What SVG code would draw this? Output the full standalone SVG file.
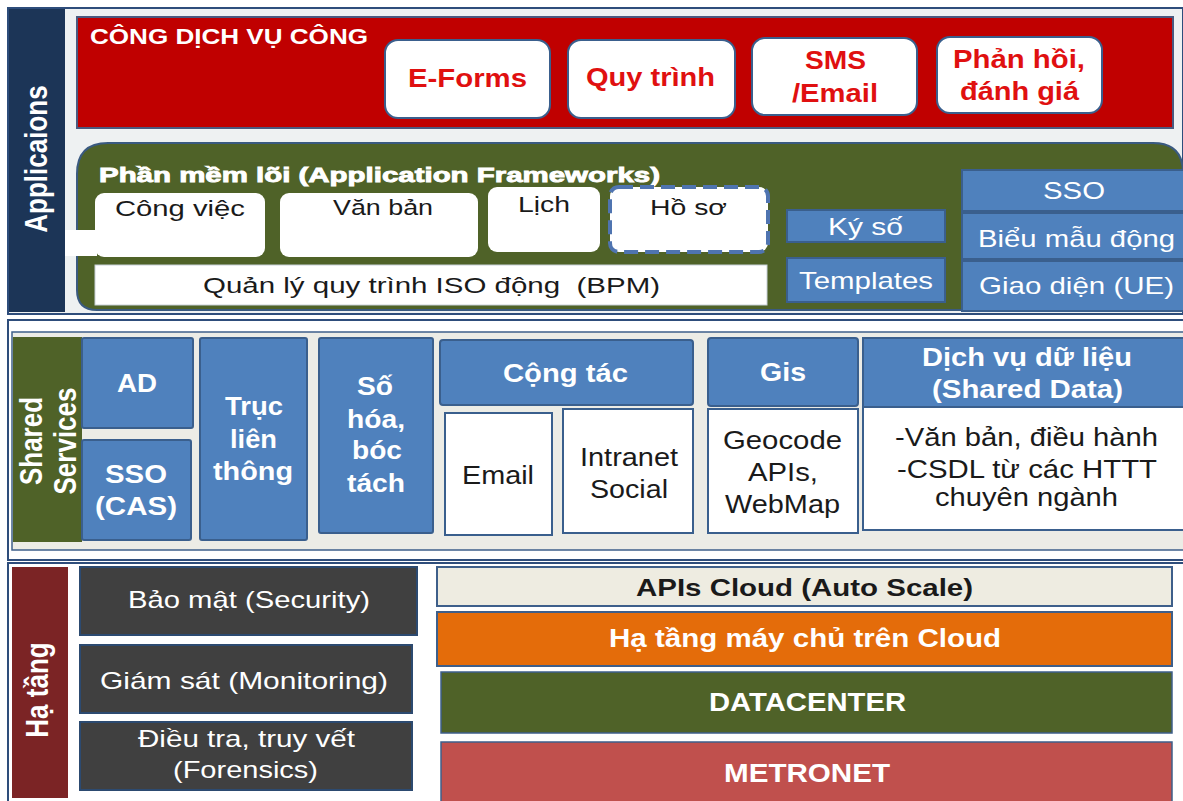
<svg xmlns="http://www.w3.org/2000/svg" width="1183" height="801" viewBox="0 0 1183 801">
<style>
text{font-family:"Liberation Sans",Arial,sans-serif;}
.b{font-weight:bold;}
.w{fill:#ffffff;}
.k{fill:#1a1a1a;}
.r{fill:#e01010;}
.blue{fill:#4f81bd;stroke:#3a5f8d;stroke-width:2;}
.wb{fill:#ffffff;stroke:#3a5f8d;stroke-width:2;}
.dk{fill:#404040;stroke:#2c4a70;stroke-width:2;}
.panel{stroke:#2e4d7b;stroke-width:2;}
.pre{white-space:pre;}
</style>

<g id="panel-applications">
  <rect class="panel" x="8" y="8" width="1175" height="306" fill="#eef1f2"/>
  <rect x="9" y="9" width="56" height="303" fill="#1c3557"/>
  <text class="b w" font-size="26" text-anchor="middle" transform="translate(47,159) scale(1.2,1) rotate(-90)">Applicaions</text>
</g>

<g id="cong-dich-vu-cong">
  <rect x="77" y="17" width="1096" height="111" fill="#c00000" stroke="#4a5a80" stroke-width="2"/>
  <text class="b w" font-size="22" x="90" y="44" textLength="278" lengthAdjust="spacingAndGlyphs">CÔNG DỊCH VỤ CÔNG</text>
</g>
<g id="eforms">
  <rect class="wb" x="385" y="40" width="165" height="78" rx="13"/>
  <text class="b r" font-size="25" x="408" y="87" textLength="119" lengthAdjust="spacingAndGlyphs">E-Forms</text>
</g>
<g id="quy-trinh">
  <rect class="wb" x="568" y="40" width="167" height="78" rx="13"/>
  <text class="b r" font-size="25" x="586" y="86" textLength="129" lengthAdjust="spacingAndGlyphs">Quy trình</text>
</g>
<g id="sms-email">
  <rect class="wb" x="752" y="38" width="165" height="77" rx="13"/>
  <text class="b r" font-size="25" x="805" y="69" textLength="61" lengthAdjust="spacingAndGlyphs">SMS</text>
  <text class="b r" font-size="25" x="792" y="102" textLength="86" lengthAdjust="spacingAndGlyphs">/Email</text>
</g>
<g id="phan-hoi">
  <rect class="wb" x="937" y="37" width="165" height="76" rx="13"/>
  <text class="b r" font-size="26" x="953" y="68" textLength="132" lengthAdjust="spacingAndGlyphs">Phản hồi,</text>
  <text class="b r" font-size="26" x="960" y="100" textLength="119" lengthAdjust="spacingAndGlyphs">đánh giá</text>
</g>

<g id="phan-mem-loi">
  <path d="M77,290 Q77,310 97,310 L1183,310 L1183,173 Q1183,143 1153,143 L108,143 Q77,143 77,174 Z" fill="#4f6228" stroke="#3a5a80" stroke-width="2"/>
  <text class="b w" font-size="21" x="99" y="182" textLength="561" lengthAdjust="spacingAndGlyphs" stroke="#ffffff" stroke-width="0.9">Phần mềm lõi (Application Frameworks)</text>
  <rect x="65" y="230" width="32" height="26" fill="#ffffff"/>
</g>
<g id="cong-viec">
  <rect x="95" y="193" width="170" height="64" rx="9" fill="#ffffff"/>
  <text class="k" font-size="22" x="115" y="216" textLength="130" lengthAdjust="spacingAndGlyphs">Công việc</text>
</g>
<g id="van-ban">
  <rect x="280" y="193" width="198" height="64" rx="9" fill="#ffffff"/>
  <text class="k" font-size="22" x="333" y="215" textLength="100" lengthAdjust="spacingAndGlyphs">Văn bản</text>
</g>
<g id="lich">
  <rect x="488" y="187" width="112" height="65" rx="9" fill="#ffffff"/>
  <text class="k" font-size="22" x="518" y="212" textLength="52" lengthAdjust="spacingAndGlyphs">Lịch</text>
</g>
<g id="ho-so">
  <rect x="610" y="187" width="158" height="65" rx="9" fill="#ffffff" stroke="#4f74b0" stroke-width="4" stroke-dasharray="14 7"/>
  <text class="k" font-size="22" x="650" y="215" textLength="77" lengthAdjust="spacingAndGlyphs">Hồ sơ</text>
</g>
<g id="bpm">
  <rect x="95" y="265" width="672" height="40" fill="#ffffff" stroke="#c8d0d8" stroke-width="1"/>
  <text class="k pre" font-size="22" x="203" y="293" textLength="457" lengthAdjust="spacingAndGlyphs">Quản lý quy trình ISO động  (BPM)</text>
</g>
<g id="ky-so">
  <rect class="blue" x="787" y="210" width="158" height="32"/>
  <text class="w" font-size="24" x="828" y="235" textLength="75" lengthAdjust="spacingAndGlyphs">Ký số</text>
</g>
<g id="templates">
  <rect class="blue" x="787" y="258" width="158" height="44"/>
  <text class="w" font-size="24" x="799" y="289" textLength="134" lengthAdjust="spacingAndGlyphs">Templates</text>
</g>
<g id="sso-app">
  <rect class="blue" x="962" y="170" width="226" height="41"/>
  <text class="w" font-size="24" x="1043" y="199" textLength="62" lengthAdjust="spacingAndGlyphs">SSO</text>
</g>
<g id="bieu-mau">
  <rect class="blue" x="962" y="213" width="226" height="46"/>
  <text class="w" font-size="24" x="978" y="247" textLength="197" lengthAdjust="spacingAndGlyphs">Biểu mẫu động</text>
</g>
<g id="giao-dien">
  <rect class="blue" x="962" y="261" width="226" height="50"/>
  <text class="w" font-size="24" x="979" y="294" textLength="195" lengthAdjust="spacingAndGlyphs">Giao diện (UE)</text>
</g>

<g id="panel-shared">
  <rect class="panel" x="8" y="320" width="1180" height="240" fill="#ffffff"/>
  <rect x="12" y="332" width="1176" height="218" fill="#ecece6" stroke="#3e5f8a" stroke-width="1.5"/>
  <rect x="13" y="337" width="69" height="205" fill="#4f6228"/>
  <text class="b w" font-size="26" text-anchor="middle" transform="translate(42,441) scale(1.2,1) rotate(-90)">Shared</text>
  <text class="b w" font-size="26" text-anchor="middle" transform="translate(76,441) scale(1.2,1) rotate(-90)">Services</text>
</g>
<g id="ad">
  <rect class="blue" x="82" y="338" width="111" height="90" rx="2"/>
  <text class="b w" font-size="25" x="117" y="392" textLength="40" lengthAdjust="spacingAndGlyphs">AD</text>
</g>
<g id="sso-cas">
  <rect class="blue" x="82" y="440" width="109" height="100" rx="2"/>
  <text class="b w" font-size="25" x="105" y="483" textLength="62" lengthAdjust="spacingAndGlyphs">SSO</text>
  <text class="b w" font-size="25" x="95" y="515" textLength="82" lengthAdjust="spacingAndGlyphs">(CAS)</text>
</g>
<g id="truc-lien-thong">
  <rect class="blue" x="200" y="338" width="107" height="202" rx="2"/>
  <text class="b w" font-size="25" x="225" y="415" textLength="58" lengthAdjust="spacingAndGlyphs">Trục</text>
  <text class="b w" font-size="25" x="230" y="448" textLength="47" lengthAdjust="spacingAndGlyphs">liên</text>
  <text class="b w" font-size="25" x="213" y="480" textLength="80" lengthAdjust="spacingAndGlyphs">thông</text>
</g>
<g id="so-hoa">
  <rect class="blue" x="319" y="338" width="114" height="195" rx="2"/>
  <text class="b w" font-size="25" x="357" y="395" textLength="36" lengthAdjust="spacingAndGlyphs">Số</text>
  <text class="b w" font-size="25" x="347" y="428" textLength="58" lengthAdjust="spacingAndGlyphs">hóa,</text>
  <text class="b w" font-size="25" x="352" y="459" textLength="50" lengthAdjust="spacingAndGlyphs">bóc</text>
  <text class="b w" font-size="25" x="347" y="492" textLength="58" lengthAdjust="spacingAndGlyphs">tách</text>
</g>
<g id="cong-tac">
  <rect class="blue" x="440" y="340" width="253" height="65" rx="3"/>
  <text class="b w" font-size="25" x="503" y="382" textLength="125" lengthAdjust="spacingAndGlyphs">Cộng tác</text>
</g>
<g id="email">
  <rect class="wb" x="445" y="413" width="107" height="122"/>
  <text class="k" font-size="25" x="462" y="484" textLength="72" lengthAdjust="spacingAndGlyphs">Email</text>
</g>
<g id="intranet">
  <rect class="wb" x="563" y="409" width="130" height="124"/>
  <text class="k" font-size="25" x="580" y="466" textLength="98" lengthAdjust="spacingAndGlyphs">Intranet</text>
  <text class="k" font-size="25" x="590" y="498" textLength="78" lengthAdjust="spacingAndGlyphs">Social</text>
</g>
<g id="gis">
  <rect class="blue" x="708" y="338" width="150" height="68" rx="3"/>
  <text class="b w" font-size="25" x="760" y="381" textLength="46" lengthAdjust="spacingAndGlyphs">Gis</text>
</g>
<g id="geocode">
  <rect class="wb" x="708" y="409" width="150" height="124"/>
  <text class="k" font-size="25" x="723" y="449" textLength="119" lengthAdjust="spacingAndGlyphs">Geocode</text>
  <text class="k" font-size="25" x="748" y="481" textLength="70" lengthAdjust="spacingAndGlyphs">APIs,</text>
  <text class="k" font-size="25" x="725" y="513" textLength="115" lengthAdjust="spacingAndGlyphs">WebMap</text>
</g>
<g id="dich-vu-du-lieu">
  <rect class="blue" x="863" y="338" width="325" height="69"/>
  <text class="b w" font-size="25" x="922" y="366" textLength="210" lengthAdjust="spacingAndGlyphs">Dịch vụ dữ liệu</text>
  <text class="b w" font-size="25" x="932" y="398" textLength="191" lengthAdjust="spacingAndGlyphs">(Shared Data)</text>
</g>
<g id="shared-data">
  <rect class="wb" x="863" y="407" width="325" height="123"/>
  <text class="k" font-size="25" x="895" y="446" textLength="263" lengthAdjust="spacingAndGlyphs">-Văn bản, điều hành</text>
  <text class="k" font-size="25" x="897" y="478" textLength="260" lengthAdjust="spacingAndGlyphs">-CSDL từ các HTTT</text>
  <text class="k" font-size="25" x="935" y="506" textLength="183" lengthAdjust="spacingAndGlyphs">chuyên ngành</text>
</g>

<g id="panel-ha-tang">
  <rect class="panel" x="8" y="563" width="1180" height="245" fill="#ffffff"/>
  <rect x="12" y="567" width="56" height="231" fill="#7b2425"/>
  <text class="b w" font-size="26" text-anchor="middle" transform="translate(48,690) scale(1.2,1) rotate(-90)">Hạ tầng</text>
</g>
<g id="bao-mat">
  <rect class="dk" x="80" y="567" width="337" height="68"/>
  <text class="w" font-size="24" x="128" y="608" textLength="242" lengthAdjust="spacingAndGlyphs">Bảo mật (Security)</text>
</g>
<g id="giam-sat">
  <rect class="dk" x="80" y="645" width="332" height="68"/>
  <text class="w" font-size="24" x="100" y="689" textLength="288" lengthAdjust="spacingAndGlyphs">Giám sát (Monitoring)</text>
</g>
<g id="dieu-tra">
  <rect class="dk" x="80" y="722" width="332" height="68"/>
  <text class="w" font-size="24" x="138" y="747" textLength="217" lengthAdjust="spacingAndGlyphs">Điều tra, truy vết</text>
  <text class="w" font-size="24" x="173" y="778" textLength="145" lengthAdjust="spacingAndGlyphs">(Forensics)</text>
</g>
<g id="apis-cloud">
  <rect x="437" y="567" width="735" height="39" fill="#eeece1" stroke="#3e5f8a" stroke-width="2"/>
  <text class="b k" font-size="23" x="636" y="596" textLength="337" lengthAdjust="spacingAndGlyphs">APIs Cloud (Auto Scale)</text>
</g>
<g id="ha-tang-cloud">
  <rect x="437" y="612" width="735" height="54" fill="#e46c0a" stroke="#3e5f8a" stroke-width="2"/>
  <text class="b w" font-size="25" x="609" y="647" textLength="392" lengthAdjust="spacingAndGlyphs">Hạ tầng máy chủ trên Cloud</text>
</g>
<g id="datacenter">
  <rect x="441" y="672" width="731" height="61" fill="#4f6228" stroke="#3e5f8a" stroke-width="1.5"/>
  <text class="b w" font-size="25" x="709" y="711" textLength="197" lengthAdjust="spacingAndGlyphs">DATACENTER</text>
</g>
<g id="metronet">
  <rect x="441" y="742" width="731" height="62" fill="#c0504d" stroke="#3e5f8a" stroke-width="1.5"/>
  <text class="b w" font-size="25" x="724" y="782" textLength="166" lengthAdjust="spacingAndGlyphs">METRONET</text>
</g>

<g id="connectors"/>
</svg>
